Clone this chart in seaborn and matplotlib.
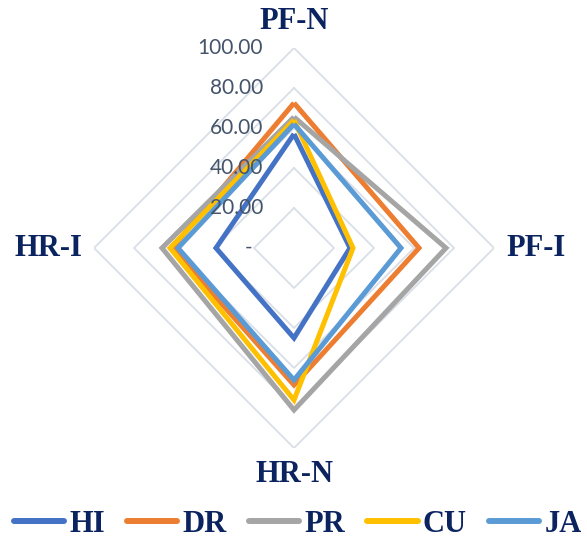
import numpy as np
import pandas as pd
import matplotlib
matplotlib.use("Agg")
import matplotlib.pyplot as plt
from matplotlib.transforms import offset_copy
import seaborn as sns

# Radar axes (clockwise from the top)
categories = ["PF-N", "PF-I", "HR-N", "HR-I"]

# Scores per group on each axis
HI = [57.0, 28.0, 45.0, 39.0]
DR = [72.5, 62.5, 68.5, 61.0]
PR = [65.5, 76.0, 81.0, 66.0]
CU = [64.0, 29.5, 76.0, 62.0]
JA = [62.0, 53.5, 66.0, 58.0]

series_names = ["HI", "DR", "PR", "CU", "JA"]
series_values = [HI, DR, PR, CU, JA]
palette = ["#4472C4", "#ED7D31", "#A5A5A5", "#FFC000", "#5B9BD5"]

tick_levels = [0, 20, 40, 60, 80, 100]
tick_labels = ["-", "20.00", "40.00", "60.00", "80.00", "100.00"]

sns.set_theme(style="white")
navy = "#0B2460"
tick_color = "#44546A"
grid_color = "#D9DEE7"

W, H = 587, 543
fig = plt.figure(figsize=(W / 100, H / 100), dpi=100)
fig.patch.set_facecolor("white")

cx, cy, R = 294, 248, 200
ax = fig.add_axes([(cx - R) / W, (H - cy - R) / H, 2 * R / W, 2 * R / H], projection="polar")
ax.set_theta_offset(np.pi / 2)
ax.set_theta_direction(-1)
ax.set_ylim(0, 100)
ax.grid(False)
ax.set_xticks([])
ax.set_yticks([])
ax.spines["polar"].set_visible(False)
ax.set_facecolor("none")

angles = np.linspace(0, 2 * np.pi, len(categories), endpoint=False)
closed_angles = np.append(angles, angles[0])

# Diamond-shaped gridlines
for lvl in tick_levels[1:]:
    ax.plot(closed_angles, [lvl] * len(closed_angles), color=grid_color, lw=1.3, zorder=1)

# Long-form table for seaborn, each loop closed on its first point
rows = []
for name, vals in zip(series_names, series_values):
    closed_vals = list(vals) + [vals[0]]
    for i, (a, v) in enumerate(zip(closed_angles, closed_vals)):
        rows.append({"group": name, "angle": a, "value": v, "order": i})
df = pd.DataFrame(rows)

n_before = len(ax.lines)
sns.lineplot(data=df, x="angle", y="value", hue="group", hue_order=series_names,
             palette=palette, sort=False, estimator=None, units="group",
             lw=3.6, legend=False, ax=ax, zorder=3)
series_lines = ax.lines[n_before:]
for ln in series_lines:
    ln.set_solid_joinstyle("miter")
    ln.set_solid_capstyle("butt")
ax.set_xlabel("")
ax.set_ylabel("")
ax.set_xticks([])
ax.set_yticks([])
ax.set_ylim(0, 100)

# Value labels along the top axis
for lvl, lab in zip(tick_levels, tick_labels):
    dx = -42 if lab == "-" else -31
    tr = offset_copy(ax.transData, fig=fig, x=dx, y=0, units="dots")
    ax.text(0, lvl, lab, transform=tr, ha="right", va="center",
            fontsize=15, color=tick_color, family="Lato", zorder=4)

# Category labels
label_font = dict(family="Liberation Serif", fontweight="bold", fontsize=22, color=navy)
align = [("center", "bottom"), ("left", "center"), ("center", "top"), ("right", "center")]
for a, cat, (ha, va) in zip(angles, categories, align):
    ax.text(a, 106, cat, ha=ha, va=va, **label_font)

# Legend along the bottom
handles = [plt.Line2D([], [], color=c, lw=4.3, solid_capstyle="round") for c in palette]
leg = fig.legend(handles, series_names, loc="center", bbox_to_anchor=(0.507, 0.034),
                 ncol=5, frameon=False, handlelength=1.65, handletextpad=0.17,
                 columnspacing=0.72, borderpad=0.0, borderaxespad=0.0,
                 prop=dict(family="Liberation Serif", weight="bold", size=22))
for t in leg.get_texts():
    t.set_color(navy)

fig.savefig("out.png", dpi=100, facecolor="white")
